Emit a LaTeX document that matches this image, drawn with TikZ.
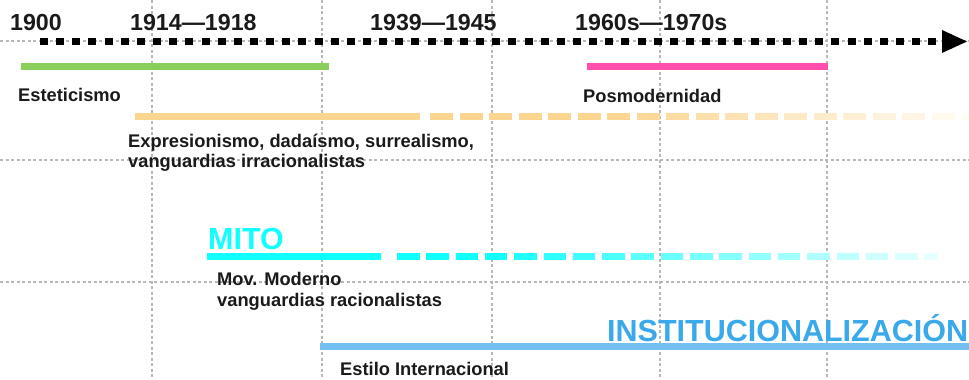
\documentclass[tikz,border=0pt]{standalone}
\usepackage{fontspec}
\setmainfont{Liberation Sans}
\definecolor{txt}{HTML}{1A1A1A}
\definecolor{gridc}{HTML}{B8B8B8}
\definecolor{grbar}{HTML}{8ACE5C}
\definecolor{pkbar}{HTML}{FF4FAC}
\definecolor{orbar}{HTML}{FCD590}
\definecolor{cybar}{HTML}{10FFFF}
\definecolor{blbar}{HTML}{72BFF0}
\definecolor{bltxt}{HTML}{3AA9EA}
\begin{document}
\begin{tikzpicture}[x=1pt,y=-1pt,
  grid/.style={draw=gridc, line width=1.2pt, dash pattern=on 3pt off 2.5pt},
  lbl/.style={anchor=base west, inner sep=0pt, text=txt, font=\bfseries\fontsize{18.3}{21}\selectfont},
  yearlbl/.style={anchor=base west, inner sep=0pt, text=txt, font=\bfseries\fontsize{23.2}{26}\selectfont},
  biglbl/.style={anchor=base west, inner sep=0pt, font=\bfseries\fontsize{30.5}{34}\selectfont},
  bar/.style={line width=7pt}]
\useasboundingbox (0,0) rectangle (969,380);
% grid
\foreach \gx in {152,322,492,660,827} \draw[grid] (\gx,0) -- (\gx,380);
\foreach \gy in {41,160,282} \draw[grid] (0,\gy) -- (969,\gy);
% axis
\coordinate (axs) at (40,41.5);
\coordinate (axe) at (937,41.5);
\draw[line width=7.5pt, dash pattern=on 8pt off 8.15pt] (axs) -- (axe);
\fill (942,30) -- (967,41.5) -- (942,53) -- cycle;
% years
\node[yearlbl] (y1900) at (10,30) {1900};
\node[yearlbl] (y1914) at (130,30) {1914—1918};
\node[yearlbl] (y1939) at (370,30) {1939—1945};
\node[yearlbl] (y1960) at (575,30) {1960s—1970s};
% green
\draw[bar, draw=grbar] (21,66.7) -- (329,66.7);
\node[lbl] (estet) at (18,101.5) {Esteticismo};
% pink
\draw[bar, draw=pkbar] (587,66.7) -- (828,66.7);
\node[lbl] (posmo) at (583,102) {Posmodernidad};
% orange
\draw[bar, draw=orbar] (135,116) -- (420,116);
\foreach \i in {0,...,18}{
  \pgfmathsetmacro\xs{430+29.5*\i}
  \pgfmathsetmacro\xe{min(\xs+23,969)}
  \pgfmathtruncatemacro\p{100-92*max(0,(\xs-600)/361)}
  \draw[bar, draw=orbar!\p!white] (\xs,116) -- (\xe,116);
}
\node[lbl] (exp1) at (128,147) {Expresionismo, dadaísmo, surrealismo,};
\node[lbl] (exp2) at (128,167) {vanguardias irracionalistas};
% cyan
\node[biglbl, text=cybar] (mito) at (208,249) {MITO};
\draw[bar, draw=cybar] (207,256.7) -- (381,256.7);
\foreach \i in {0,...,18}{
  \pgfmathsetmacro\xs{397+29.3*\i}
  \pgfmathsetmacro\xe{min(\xs+22.5,938)}
  \pgfmathtruncatemacro\p{100-90*max(0,(\xs-480)/445)}
  \draw[bar, draw=cybar!\p!white] (\xs,256.7) -- (\xe,256.7);
}
\node[lbl] (mov1) at (217,285) {Mov. Moderno};
\node[lbl] (mov2) at (217,306) {vanguardias racionalistas};
% blue
\node[biglbl, text=bltxt] (inst) at (607,341) {INSTITUCIONALIZACIÓN};
\draw[bar, draw=blbar] (320,346.7) -- (969,346.7);
\node[lbl] (estilo) at (340,375) {Estilo Internacional};
\end{tikzpicture}
\end{document}
